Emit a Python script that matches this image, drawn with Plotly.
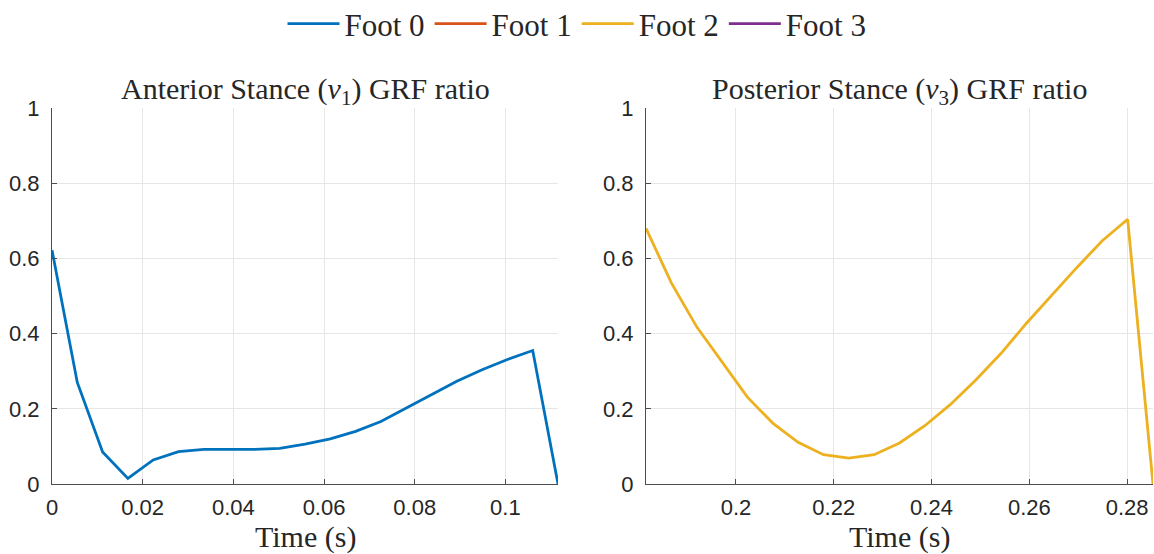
import plotly.graph_objects as go

# Anterior stance (foot 0) GRF ratio samples
t_front = [0.0, 0.00558, 0.01116, 0.01674, 0.02232, 0.0279, 0.03348, 0.03906, 0.04464,
           0.05022, 0.0558, 0.06138, 0.06696, 0.07254, 0.07812, 0.0837, 0.08928, 0.09486,
           0.10044, 0.10602, 0.1116]
grf_front = [0.622, 0.27, 0.085, 0.015, 0.064, 0.086, 0.092, 0.092, 0.092, 0.095, 0.106,
             0.12, 0.14, 0.166, 0.202, 0.237, 0.273, 0.304, 0.331, 0.355, 0.0]

# Posterior stance (foot 2) GRF ratio samples
t_rear = [0.1816, 0.186785, 0.19197, 0.197155, 0.20234, 0.207525, 0.21271, 0.217895,
          0.22308, 0.228265, 0.23345, 0.238635, 0.24382, 0.249005, 0.25419, 0.259375,
          0.26456, 0.269745, 0.27493, 0.280115, 0.2853]
grf_rear = [0.68, 0.535, 0.418, 0.325, 0.231, 0.162, 0.111, 0.078, 0.069, 0.078, 0.109,
            0.155, 0.211, 0.276, 0.347, 0.427, 0.502, 0.576, 0.647, 0.704, 0.0]

foot_names = ["Foot 0", "Foot 1", "Foot 2", "Foot 3"]
foot_colors = ["#0072BD", "#D95319", "#EDB120", "#7E2F8E"]

x_ticks_front = [0, 0.02, 0.04, 0.06, 0.08, 0.1]
x_ticks_rear = [0.2, 0.22, 0.24, 0.26, 0.28]
y_ticks = [0, 0.2, 0.4, 0.6, 0.8, 1]

SERIF = "Liberation Serif, DejaVu Serif, serif"
SANS = "Liberation Sans, Arial, sans-serif"

fig = go.Figure()

series = {0: (t_front, grf_front, "x", "y"), 2: (t_rear, grf_rear, "x2", "y2")}
for i, (name, color) in enumerate(zip(foot_names, foot_colors)):
    if i in series:
        tx, gy, xa, ya = series[i]
    else:
        tx, gy, xa, ya = [None], [None], "x", "y"
    fig.add_trace(go.Scatter(x=tx, y=gy, mode="lines", name=name, xaxis=xa, yaxis=ya,
                             line=dict(color=color, width=2.8)))

axis_common = dict(
    showgrid=True, gridcolor="#e6e6e6", gridwidth=1,
    showline=True, linecolor="#4d4d4d", linewidth=1,
    ticks="inside", ticklen=5, tickcolor="#4d4d4d",
    tickfont=dict(family=SANS, size=22, color="#262626"),
    zeroline=False, mirror=False,
)

y_dom = [70 / 554, 446 / 554]
y_tick_text = ["0", "0.2", "0.4", "0.6", "0.8", "1"]

fig.update_layout(
    width=1154, height=554,
    margin=dict(l=0, r=0, t=0, b=0, autoexpand=False),
    paper_bgcolor="white", plot_bgcolor="white",
    showlegend=True,
    legend=dict(orientation="h", x=0.5, xanchor="center", y=1 - 24 / 554, yanchor="middle",
                font=dict(family=SERIF, size=31, color="#262626"),
                itemwidth=52, tracegroupgap=0),
    xaxis=dict(domain=[52 / 1154, 558 / 1154], range=[0, 0.1116],
               tickvals=x_ticks_front, ticktext=["0", "0.02", "0.04", "0.06", "0.08", "0.1"],
               anchor="y", ticklabelstandoff=4, **axis_common),
    yaxis=dict(domain=y_dom, range=[0, 1], tickvals=y_ticks, ticktext=y_tick_text,
               anchor="x", ticklabelstandoff=7, **axis_common),
    xaxis2=dict(domain=[646 / 1154, 1153 / 1154], range=[0.1816, 0.2853],
                tickvals=x_ticks_rear, ticktext=["0.2", "0.22", "0.24", "0.26", "0.28"],
                anchor="y2", ticklabelstandoff=4, **axis_common),
    yaxis2=dict(domain=y_dom, range=[0, 1], tickvals=y_ticks, ticktext=y_tick_text,
                anchor="x2", ticklabelstandoff=7, **axis_common),
)

# Panel titles and axis labels
label_font = dict(family=SERIF, size=30, color="#262626")
annotations = [
    dict(text="Anterior Stance (<i>v</i><sub>1</sub>) GRF ratio", x=(52 + 558) / 2 / 1154, y=1 - 91 / 554),
    dict(text="Posterior Stance (<i>v</i><sub>3</sub>) GRF ratio", x=(646 + 1153) / 2 / 1154, y=1 - 91 / 554),
    dict(text="Time (s)", x=(52 + 558) / 2 / 1154, y=1 - 537 / 554),
    dict(text="Time (s)", x=(646 + 1153) / 2 / 1154, y=1 - 537 / 554),
]
for a in annotations:
    fig.add_annotation(xref="paper", yref="paper", showarrow=False, xanchor="center",
                       yanchor="middle", font=label_font, **a)

fig.write_html("out.html")
